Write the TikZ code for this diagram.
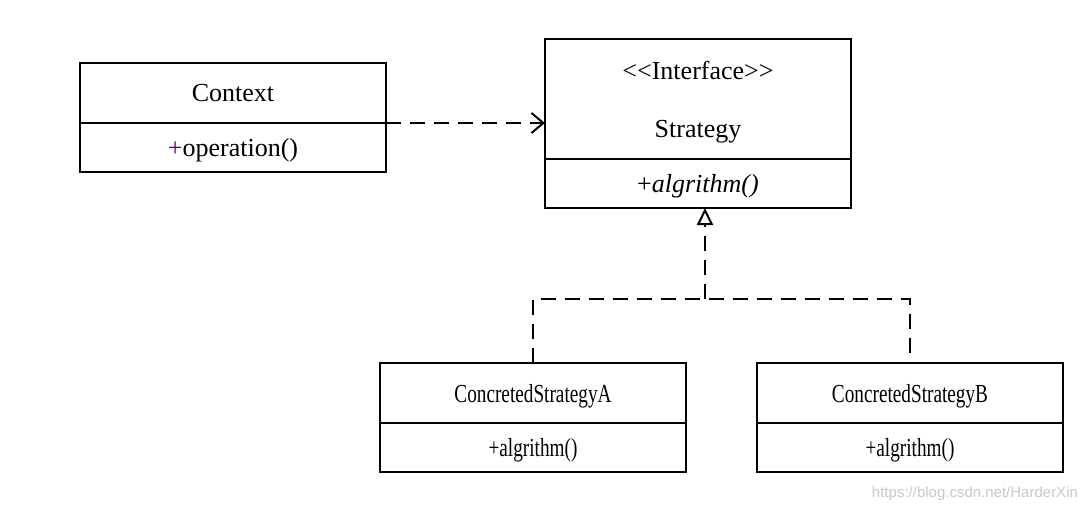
\documentclass[tikz,border=0pt]{standalone}
\usepackage{fontspec}
\setmainfont{Liberation Serif}
\setsansfont{Liberation Sans}
\usetikzlibrary{arrows.meta, positioning, calc}
\definecolor{colBorder}{RGB}{0,0,0}
\definecolor{colPlus}{RGB}{110,0,110}
\definecolor{colMark}{RGB}{200,200,200}
\newcommand{\squeezed}[1]{\scalebox{0.74}[1]{#1}}
\tikzset{
  namePart/.style={
    rectangle, draw=colBorder, line width=1pt,
    minimum width=153pt, minimum height=30pt, outer sep=0pt,
    inner sep=0pt, align=center, text depth=0pt,
    font=\fontsize{13}{15}\selectfont
  },
  opsPart/.style={
    namePart, minimum height=24.5pt
  },
  depArrow/.style={
    -{Straight Barb[length=6pt, width=10pt, line width=1pt]},
    line width=1pt, dash pattern=on 7.5pt off 4.5pt
  },
  realLine/.style={
    line width=1pt, dash pattern=on 7.5pt off 4.5pt
  },
  realArrow/.style={
    realLine, -{Triangle[open, length=8.5pt, width=8pt, line width=1pt]}
  }
}

\begin{document}
\begin{tikzpicture}[x=0.5pt, y=-0.5pt]
  \useasboundingbox (0,0) rectangle (1089,511);

  % classes
  \node[namePart] (ctxName) at (233,93) {Context};
  \node[opsPart, below=0pt of ctxName] (ctxOps) {\textcolor{colPlus}{+}operation()};

  \node[namePart, minimum height=60pt] (strName) at (698,99) {{<}{<}Interface{>}{>}\\[14pt]Strategy};
  \node[opsPart, below=0pt of strName] (strOps) {+\textit{algrithm()}};

  \node[namePart] (aName) at (533,393) {\squeezed{ConcretedStrategyA}};
  \node[opsPart, below=0pt of aName] (aOps) {\squeezed{+algrithm()}};

  \node[namePart] (bName) at (910,393) {\squeezed{ConcretedStrategyB}};
  \node[opsPart, below=0pt of bName] (bOps) {\squeezed{+algrithm()}};

  % dependency
  \draw[depArrow] (ctxOps.north east) -- (strName.west |- ctxOps.north);

  % realization
  \coordinate (joint) at (705,299);
  \draw[realLine] (aName.north) |- (joint) -| (bName.north);
  \draw[realArrow] (joint) -- (joint |- strOps.south);

  \node[anchor=east, font=\sffamily\fontsize{7.5}{9}\selectfont, text=colMark] (mark) at (1085,494) {https://blog.csdn.net/HarderXin};

\end{tikzpicture}
\end{document}
